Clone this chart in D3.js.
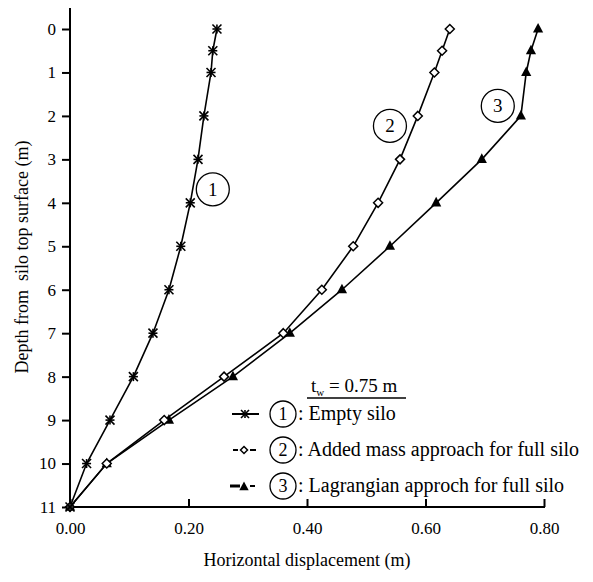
<!DOCTYPE html>
<html>
<head>
<meta charset="utf-8">
<script src="https://cdn.jsdelivr.net/npm/d3@7"></script>
<style>
  html, body { margin: 0; padding: 0; background: #fff; }
  svg { display: block; }
</style>
</head>
<body>
<svg id="chart" width="593" height="582"></svg>
<script>
// Depth below the silo top (m) at which displacements were computed
const depths = [0, 0.5, 1, 2, 3, 4, 5, 6, 7, 8, 9, 10, 11];
// Horizontal displacement (m) for each case
const emptySilo = [0.248, 0.241, 0.238, 0.226, 0.216, 0.203, 0.187, 0.167, 0.140, 0.107, 0.0675, 0.028, 0];
const addedMass = [0.641, 0.628, 0.615, 0.587, 0.557, 0.520, 0.478, 0.425, 0.360, 0.260, 0.159, 0.062, 0];
const lagrangian = [0.790, 0.778, 0.770, 0.761, 0.695, 0.618, 0.540, 0.459, 0.371, 0.275, 0.167, 0.062, 0];

const xTicks = [0, 0.2, 0.4, 0.6, 0.8];
const yTicks = [0, 1, 2, 3, 4, 5, 6, 7, 8, 9, 10, 11];

const seriesNames = ["Empty silo", "Added mass approach for full silo", "Lagrangian approch for full silo"];
const seriesIds = ["1", "2", "3"];
// Curve tags: [displacement, depth]
const tagPos = [[0.241, 3.69], [0.540, 2.23], [0.722, 1.77]];

const FONT = '"Liberation Serif"';

const svg = d3.select("#chart");
const x = d3.scaleLinear().domain([0, 0.8]).range([70, 544]);
const y = d3.scaleLinear().domain([0, 11]).range([29, 507]);

// Axes
const xAxis = svg.append("g").attr("transform", `translate(0,${y(11)})`)
  .call(d3.axisBottom(x).tickValues(xTicks).tickSize(-8).tickFormat(d3.format(".2f")));
xAxis.select(".domain").remove();
xAxis.selectAll(".tick line").attr("stroke", "#000").attr("stroke-width", 2);
xAxis.selectAll(".tick text").attr("y", 27).attr("dy", null)
  .style("font-size", "17px").style("font-family", FONT);

const yAxis = svg.append("g").attr("transform", `translate(${x(0)},0)`)
  .call(d3.axisLeft(y).tickValues(yTicks).tickSize(8).tickPadding(6).tickFormat(d3.format("d")));
yAxis.select(".domain").remove();
yAxis.selectAll(".tick line").attr("stroke", "#000").attr("stroke-width", 2);
yAxis.selectAll(".tick text").style("font-size", "17px").style("font-family", FONT);

svg.append("line").attr("x1", x(0)).attr("x2", x(0)).attr("y1", 8).attr("y2", y(11))
  .attr("stroke", "#000").attr("stroke-width", 2);
svg.append("line").attr("x1", x(0) - 1).attr("x2", x(0.8) + 1).attr("y1", y(11)).attr("y2", y(11))
  .attr("stroke", "#000").attr("stroke-width", 2);

// Axis titles
svg.append("text").attr("x", (x(0) + x(0.8)) / 2).attr("y", 566).attr("text-anchor", "middle")
  .style("font-size", "18px").style("font-family", FONT).text("Horizontal displacement (m)");
svg.append("text").attr("transform", "translate(28,257) rotate(-90)").attr("text-anchor", "middle")
  .style("font-size", "18px").style("font-family", FONT).style("white-space", "pre")
  .text("Depth from  silo top surface (m)");

// Marker painters
function asterisk(g, cx, cy, r) {
  const s = g.append("g").attr("transform", `translate(${cx},${cy})`)
    .attr("stroke", "#000").attr("stroke-width", 1.6);
  [[-r, -r, r, r], [-r, r, r, -r], [0, -r, 0, r], [-r, 0, r, 0]].forEach(d =>
    s.append("line").attr("x1", d[0]).attr("y1", d[1]).attr("x2", d[2]).attr("y2", d[3]));
}
function diamond(g, cx, cy, r) {
  g.append("path").attr("d", `M${cx},${cy - r}L${cx + r},${cy}L${cx},${cy + r}L${cx - r},${cy}Z`)
    .attr("fill", "#fff").attr("stroke", "#000").attr("stroke-width", 1.5);
}
function triangle(g, cx, cy, r) {
  g.append("path").attr("d", `M${cx},${cy - r}L${cx + r * 0.85},${cy + r * 0.6}L${cx - r * 0.85},${cy + r * 0.6}Z`)
    .attr("fill", "#000");
}

const line = d3.line().x(d => x(d[0])).y(d => y(d[1]));
const series = [
  { vals: emptySilo, mark: asterisk, r: 4.5 },
  { vals: addedMass, mark: diamond, r: 4.5 },
  { vals: lagrangian, mark: triangle, r: 6 }
];

// Lines first, then markers on top
series.slice().reverse().forEach(s => {
  const pts = s.vals.map((v, i) => [v, depths[i]]);
  svg.append("path").datum(pts).attr("d", line).attr("fill", "none")
    .attr("stroke", "#000").attr("stroke-width", 1.6);
});
series.slice().reverse().forEach(s => {
  const g = svg.append("g");
  s.vals.forEach((v, i) => s.mark(g, x(v), y(depths[i]), s.r));
});

// Circled curve tags
function tag(cx, cy, r, label) {
  svg.append("circle").attr("cx", cx).attr("cy", cy).attr("r", r)
    .attr("fill", "#fff").attr("stroke", "#000").attr("stroke-width", 1.3);
  svg.append("text").attr("x", cx).attr("y", cy + 6.5).attr("text-anchor", "middle")
    .style("font-size", "19px").style("font-family", FONT).text(label);
}
tagPos.forEach((p, i) => tag(x(p[0]), y(p[1]), 16.5, seriesIds[i]));

// Legend
const lg = svg.append("g");
const tw = lg.append("text").attr("x", 311).attr("y", 392).style("font-size", "19px").style("font-family", FONT);
tw.append("tspan").text("t");
tw.append("tspan").attr("dy", 4).style("font-size", "11px").text("w");
tw.append("tspan").attr("dy", -4).text(" = 0.75 m");
lg.append("line").attr("x1", 307).attr("x2", 406).attr("y1", 398).attr("y2", 398)
  .attr("stroke", "#000").attr("stroke-width", 1.3);

const rowY = [414, 450, 486];
// row 1: solid line with asterisk
lg.append("line").attr("x1", 232).attr("x2", 259).attr("y1", rowY[0]).attr("y2", rowY[0])
  .attr("stroke", "#000").attr("stroke-width", 2);
asterisk(lg, 245, rowY[0], 4);
// row 2: dashed with open diamond
lg.append("line").attr("x1", 233).attr("x2", 238).attr("y1", rowY[1]).attr("y2", rowY[1])
  .attr("stroke", "#000").attr("stroke-width", 2);
lg.append("line").attr("x1", 250).attr("x2", 256).attr("y1", rowY[1]).attr("y2", rowY[1])
  .attr("stroke", "#000").attr("stroke-width", 2);
diamond(lg, 244, rowY[1], 3.5);
// row 3: dashed with filled triangle
lg.append("line").attr("x1", 230).attr("x2", 240).attr("y1", rowY[2]).attr("y2", rowY[2])
  .attr("stroke", "#000").attr("stroke-width", 3);
lg.append("line").attr("x1", 250).attr("x2", 255).attr("y1", rowY[2]).attr("y2", rowY[2])
  .attr("stroke", "#000").attr("stroke-width", 2);
triangle(lg, 244, rowY[2] + 1, 5.5);

seriesNames.forEach((name, i) => {
  lg.append("circle").attr("cx", 283).attr("cy", rowY[i]).attr("r", 13)
    .attr("fill", "#fff").attr("stroke", "#000").attr("stroke-width", 1.3);
  lg.append("text").attr("x", 283).attr("y", rowY[i] + 6).attr("text-anchor", "middle")
    .style("font-size", "18px").style("font-family", FONT).text(seriesIds[i]);
  lg.append("text").attr("x", 298).attr("y", rowY[i] + 6).style("font-size", "20px")
    .style("font-family", FONT).text(": " + name);
});
</script>
</body>
</html>
